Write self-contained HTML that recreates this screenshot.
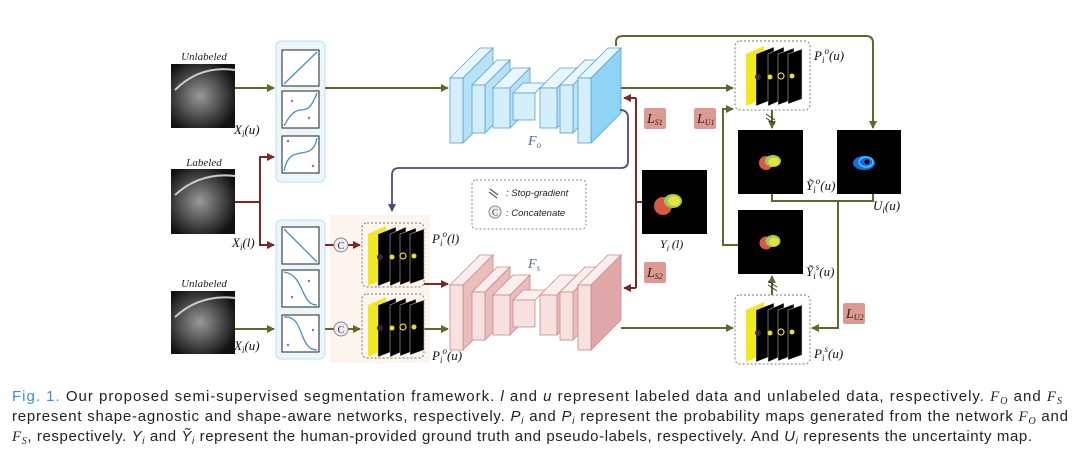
<!DOCTYPE html>
<html><head><meta charset="utf-8"><style>
html,body{margin:0;padding:0;background:#fff;}
svg{display:block;}
.it{font-family:"Liberation Serif",serif;font-style:italic;}
.cap{font-family:"Liberation Sans",sans-serif;font-size:15px;fill:#222;}
</style></head><body>
<svg width="1080" height="458" viewBox="0 0 1080 458" xmlns="http://www.w3.org/2000/svg">
<defs>
<marker id="ag" markerWidth="8" markerHeight="8" refX="7" refY="4" orient="auto" markerUnits="userSpaceOnUse"><path d="M0,0 L8,4 L0,8 Z" fill="#5b6b2a"/></marker>
<marker id="ar" markerWidth="8" markerHeight="8" refX="7" refY="4" orient="auto" markerUnits="userSpaceOnUse"><path d="M0,0 L8,4 L0,8 Z" fill="#7a2a22"/></marker>
<marker id="ap" markerWidth="8" markerHeight="8" refX="7" refY="4" orient="auto" markerUnits="userSpaceOnUse"><path d="M0,0 L8,4 L0,8 Z" fill="#4a4a7a"/></marker>
<radialGradient id="mri" cx="45%" cy="50%" r="60%"><stop offset="0" stop-color="#999"/><stop offset="0.5" stop-color="#555"/><stop offset="1" stop-color="#111"/></radialGradient>
<g id="prob">
 <polygon points="6,10 24,2 24,54 6,62" fill="#f2e81e"/>
 <polygon points="16,10 34,3 34,55 16,62" fill="#000" stroke="#ddd" stroke-width="0.5"/>
 <polygon points="28,10 44,3 44,55 28,62" fill="#000" stroke="#ddd" stroke-width="0.5"/>
 <polygon points="38,10 54,4 54,55 38,61" fill="#000" stroke="#ddd" stroke-width="0.5"/>
 <polygon points="48,10 62,5 62,55 48,60" fill="#000" stroke="#ddd" stroke-width="0.5"/>
 <circle cx="18" cy="33" r="3" fill="#402050"/><circle cx="30" cy="33" r="2.5" fill="#e8e030"/>
 <circle cx="41" cy="32" r="3" fill="none" stroke="#e8e030" stroke-width="1.2"/><circle cx="52" cy="32" r="2.5" fill="#e8e030"/>
</g>
</defs>

<g>
<rect x="171" y="64" width="64" height="64" fill="url(#mri)"/>
<rect x="171" y="169" width="64" height="65" fill="url(#mri)"/>
<rect x="171" y="291" width="64" height="63" fill="url(#mri)"/>
<path d="M175,90 Q200,65 235,70" stroke="#ccc" stroke-width="2" fill="none"/>
<path d="M175,195 Q200,172 235,176" stroke="#ccc" stroke-width="2" fill="none"/>
<path d="M175,317 Q200,294 235,298" stroke="#ccc" stroke-width="2" fill="none"/>
</g>
<g class="it" font-size="11" fill="#222" text-anchor="middle">
<text x="204" y="60">Unlabeled</text><text x="204" y="166">Labeled</text><text x="204" y="287">Unlabeled</text>
</g>
<g class="it" font-size="13" fill="#111">
<text x="234" y="134">X<tspan font-size="9" dy="3">i</tspan><tspan dy="-3">(u)</tspan></text>
<text x="232" y="247">X<tspan font-size="9" dy="3">i</tspan><tspan dy="-3">(l)</tspan></text>
<text x="234" y="350">X<tspan font-size="9" dy="3">i</tspan><tspan dy="-3">(u)</tspan></text>
</g>

<rect x="276" y="41" width="49" height="141" rx="5" fill="#eaf6fa" stroke="#bfe0ec"/>
<rect x="276" y="220" width="49" height="139" rx="5" fill="#eaf6fa" stroke="#bfe0ec"/>
<rect x="330" y="215" width="100" height="148" fill="#fdf3e8" opacity="0.8"/>
<g fill="#fff" stroke="#222" stroke-width="1">
<rect x="282" y="50" width="37" height="36"/><rect x="282" y="91" width="37" height="37"/><rect x="282" y="136" width="37" height="37"/>
<rect x="282" y="227" width="37" height="37"/><rect x="282" y="270" width="37" height="37"/><rect x="282" y="315" width="37" height="37"/>
</g>
<g fill="none" stroke="#4a8cc8" stroke-width="1.3">
<path d="M284,84 L317,52"/>
<path d="M284,126 C300,95 305,125 317,93"/>
<path d="M284,171 C290,140 312,165 317,138"/>
<path d="M284,229 L317,262"/>
<path d="M284,272 C305,275 300,305 317,305"/>
<path d="M284,317 C305,315 298,350 317,350"/>
</g>
<g fill="#7a6ae0"><circle cx="292" cy="101" r="1.2"/><circle cx="309" cy="118" r="1.2"/><circle cx="288" cy="141" r="1.2"/><circle cx="313" cy="166" r="1.2"/><circle cx="309" cy="281" r="1.2"/><circle cx="292" cy="297" r="1.2"/><circle cx="313" cy="330" r="1.2"/><circle cx="288" cy="345" r="1.2"/></g>

<g fill="none" stroke-width="2">
<path d="M235,88 L274,88" stroke="#5b6b2a" marker-end="url(#ag)"/>
<path d="M325,88 L448,88" stroke="#5b6b2a" marker-end="url(#ag)"/>
<path d="M235,202 L260,202 L260,157 L274,157" stroke="#7a2a22" marker-end="url(#ar)"/>
<path d="M260,202 L260,245 L274,245" stroke="#7a2a22" marker-end="url(#ar)"/>
<path d="M235,329 L274,329" stroke="#5b6b2a" marker-end="url(#ag)"/>
<path d="M325,245 L334,245" stroke="#7a2a22"/>
<path d="M348,245 L360,245" stroke="#7a2a22" marker-end="url(#ar)"/>
<path d="M325,329 L334,329" stroke="#5b6b2a"/>
<path d="M348,329 L360,329" stroke="#5b6b2a" marker-end="url(#ag)"/>
<path d="M424,284 L448,284" stroke="#7a2a22" marker-end="url(#ar)"/>
<path d="M424,329 L448,329" stroke="#5b6b2a" marker-end="url(#ag)"/>
</g>
<g font-family="Liberation Serif,serif" font-size="10" fill="#333" text-anchor="middle">
<circle cx="341" cy="245" r="7" fill="#eceaf4" stroke="#888"/><text x="341" y="249">C</text>
<circle cx="341" cy="329" r="7" fill="#eceaf4" stroke="#888"/><text x="341" y="333">C</text>
</g>

<rect x="362" y="223" width="62" height="64" rx="5" fill="none" stroke="#777" stroke-dasharray="2,2"/>
<rect x="362" y="294" width="62" height="64" rx="5" fill="none" stroke="#777" stroke-dasharray="2,2"/>
<use href="#prob" x="362" y="224"/>
<use href="#prob" x="362" y="295"/>
<g class="it" font-size="13" fill="#111">
<text x="432" y="243">P<tspan font-size="9" dy="3">i</tspan><tspan font-size="9" dy="-9">o</tspan><tspan dy="6">(l)</tspan></text>
<text x="432" y="360">P<tspan font-size="9" dy="3">i</tspan><tspan font-size="9" dy="-9">o</tspan><tspan dy="6">(u)</tspan></text>
</g>

<g stroke="#5aa0cc" stroke-width="0.8">
<polygon points="450,78 480,48 493,48 463,78" fill="#e8f6fd"/><polygon points="463,78 493,48 493,113 463,143" fill="#b5e2f7"/><rect x="450" y="78" width="13" height="65" fill="#d4eefa"/>
<polygon points="472,85 497,60 510,60 485,85" fill="#e8f6fd"/><polygon points="485,85 510,60 510,108 485,133" fill="#b5e2f7"/><rect x="472" y="85" width="13" height="48" fill="#d4eefa"/>
<polygon points="493,88 513,68 530,68 510,88" fill="#e8f6fd"/><polygon points="510,88 530,68 530,108 510,128" fill="#b5e2f7"/><rect x="493" y="88" width="17" height="40" fill="#d4eefa"/>
<polygon points="513,93 523,83 545,83 535,93" fill="#e8f6fd"/><rect x="513" y="93" width="22" height="27" fill="#d4eefa"/>
<polygon points="540,88 560,68 577,68 557,88" fill="#e8f6fd"/><polygon points="557,88 577,68 577,108 557,128" fill="#b5e2f7"/><rect x="540" y="88" width="17" height="40" fill="#d4eefa"/>
<polygon points="560,85 585,60 598,60 573,85" fill="#e8f6fd"/><polygon points="573,85 598,60 598,108 573,133" fill="#b5e2f7"/><rect x="560" y="85" width="13" height="48" fill="#d4eefa"/>
<polygon points="578,78 608,48 621,48 591,78" fill="#e8f6fd"/><polygon points="591,78 621,48 621,113 591,143" fill="#8fd3f5"/><rect x="578" y="78" width="13" height="65" fill="#d4eefa"/>
</g>
<g stroke="#c88a8a" stroke-width="0.8" transform="translate(0,207)">
<polygon points="450,78 480,48 493,48 463,78" fill="#fbeeee"/><polygon points="463,78 493,48 493,113 463,143" fill="#ebbcbc"/><rect x="450" y="78" width="13" height="65" fill="#f7e0e0"/>
<polygon points="472,85 497,60 510,60 485,85" fill="#fbeeee"/><polygon points="485,85 510,60 510,108 485,133" fill="#ebbcbc"/><rect x="472" y="85" width="13" height="48" fill="#f7e0e0"/>
<polygon points="493,88 513,68 530,68 510,88" fill="#fbeeee"/><polygon points="510,88 530,68 530,108 510,128" fill="#ebbcbc"/><rect x="493" y="88" width="17" height="40" fill="#f7e0e0"/>
<polygon points="513,93 523,83 545,83 535,93" fill="#fbeeee"/><rect x="513" y="93" width="22" height="27" fill="#f7e0e0"/>
<polygon points="540,88 560,68 577,68 557,88" fill="#fbeeee"/><polygon points="557,88 577,68 577,108 557,128" fill="#ebbcbc"/><rect x="540" y="88" width="17" height="40" fill="#f7e0e0"/>
<polygon points="560,85 585,60 598,60 573,85" fill="#fbeeee"/><polygon points="573,85 598,60 598,108 573,133" fill="#ebbcbc"/><rect x="560" y="85" width="13" height="48" fill="#f7e0e0"/>
<polygon points="578,78 608,48 621,48 591,78" fill="#fbeeee"/><polygon points="591,78 621,48 621,113 591,143" fill="#e0a8a8"/><rect x="578" y="78" width="13" height="65" fill="#f7e0e0"/>
</g>
<g class="it" font-size="14" fill="#4a6aa8">
<text x="528" y="145">F<tspan font-size="9" dy="3">o</tspan></text>
<text x="528" y="268">F<tspan font-size="9" dy="3">s</tspan></text>
</g>

<rect x="472" y="180" width="114" height="49" rx="4" fill="none" stroke="#888" stroke-dasharray="2,2"/>
<path d="M490,189 L498,195 M489,192 L497,198" stroke="#333" stroke-width="1"/>
<circle cx="495" cy="212" r="6" fill="#eceaf4" stroke="#888"/>
<text x="495" y="215.5" font-family="Liberation Serif,serif" font-size="9" text-anchor="middle" fill="#333">C</text>
<g font-family="Liberation Sans,sans-serif" font-style="italic" font-size="9.5" fill="#222">
<text x="506" y="196">: Stop-gradient</text><text x="506" y="216">: Concatenate</text>
</g>

<path d="M620,110 Q628,110 628,118 L628,161 Q628,168 621,168 L399,168 Q392,168 392,175 L392,211" fill="none" stroke="#4a4a7a" stroke-width="1.8" marker-end="url(#ap)"/>

<g fill="none" stroke="#7a2a22" stroke-width="2">
<path d="M636,98 L636,288"/>
<path d="M636,98 L624,98" marker-end="url(#ar)"/>
<path d="M636,288 L624,288" marker-end="url(#ar)"/>
<path d="M636,202 L642,202"/>
</g>
<rect x="642" y="170" width="65" height="64" fill="#000"/>
<circle cx="663" cy="206" r="9" fill="#d85a45"/><ellipse cx="673" cy="201" rx="9" ry="7" fill="#9ccc55"/><ellipse cx="674" cy="201" rx="6" ry="5" fill="#e8e040"/>
<text x="660" y="248" class="it" font-size="12" fill="#111">Y<tspan font-size="8" dy="3">i</tspan><tspan dy="-3"> (l)</tspan></text>

<g class="it" font-size="14" fill="#222">
<rect x="644" y="108" width="22" height="21" rx="2" fill="#dc9a92"/><text x="647" y="123">L<tspan font-size="8" dy="2">S1</tspan></text>
<rect x="644" y="262" width="22" height="21" rx="2" fill="#dc9a92"/><text x="647" y="277">L<tspan font-size="8" dy="2">S2</tspan></text>
<rect x="694" y="108" width="22" height="21" rx="2" fill="#dc9a92"/><text x="697" y="123">L<tspan font-size="8" dy="2">U1</tspan></text>
<rect x="843" y="303" width="22" height="21" rx="2" fill="#dc9a92"/><text x="846" y="318">L<tspan font-size="8" dy="2">U2</tspan></text>
</g>

<g fill="none" stroke="#5b6b2a" stroke-width="2">
<path d="M616,46 L616,42 Q616,36 623,36 L866,36 Q873,36 873,43 L873,128" marker-end="url(#ag)"/>
<path d="M621,88 L733,88" marker-end="url(#ag)"/>
<path d="M738,245 L723,245 L723,109 L733,109" marker-end="url(#ag)"/>
<path d="M621,328 L733,328" marker-end="url(#ag)"/>
<path d="M772,194 L772,201 L873,201 L873,194"/>
<path d="M838,201 L838,328 L812,328" marker-end="url(#ag)"/>
<path d="M772,110 L772,128" marker-end="url(#ag)"/>
<path d="M772,295 L772,276" marker-end="url(#ag)"/>
</g>
<path d="M766,114 L775,120 M766,118 L775,124" stroke="#333" stroke-width="1"/>
<path d="M768,281 L777,287 M768,285 L777,291" stroke="#333" stroke-width="1"/>

<rect x="735" y="41" width="75" height="69" rx="5" fill="#fff" stroke="#777" stroke-dasharray="2,2"/>
<rect x="735" y="295" width="75" height="69" rx="5" fill="#fff" stroke="#777" stroke-dasharray="2,2"/>
<use href="#prob" x="740" y="44"/>
<use href="#prob" x="740" y="300"/>
<g class="it" font-size="13" fill="#111">
<text x="814" y="60">P<tspan font-size="9" dy="3">i</tspan><tspan font-size="9" dy="-9">o</tspan><tspan dy="6">(u)</tspan></text>
<text x="814" y="358">P<tspan font-size="9" dy="3">i</tspan><tspan font-size="9" dy="-9">s</tspan><tspan dy="6">(u)</tspan></text>
</g>

<rect x="738" y="130" width="65" height="64" fill="#000"/>
<circle cx="766" cy="163" r="7" fill="#d85a45"/><ellipse cx="773" cy="161" rx="8" ry="6" fill="#9ccc55"/><ellipse cx="774" cy="162" rx="5.5" ry="4.5" fill="#e8e040"/>
<rect x="738" y="210" width="65" height="64" fill="#000"/>
<circle cx="766" cy="243" r="6.5" fill="#d85a45"/><ellipse cx="773" cy="241" rx="7.5" ry="6" fill="#9ccc55"/><ellipse cx="774" cy="242" rx="5" ry="4.5" fill="#e8e040"/>
<rect x="837" y="130" width="64" height="64" fill="#000"/>
<ellipse cx="864" cy="163" rx="11" ry="7" fill="#1a6ae0"/><ellipse cx="866" cy="162" rx="7" ry="5" fill="none" stroke="#40c8f0" stroke-width="1.5"/><circle cx="867" cy="162" r="2.5" fill="#000"/>
<g class="it" font-size="13" fill="#111">
<text x="806" y="190">Ỹ<tspan font-size="9" dy="3">i</tspan><tspan font-size="9" dy="-9">o</tspan><tspan dy="6">(u)</tspan></text>
<text x="806" y="276">Ỹ<tspan font-size="9" dy="3">i</tspan><tspan font-size="9" dy="-9">s</tspan><tspan dy="6">(u)</tspan></text>
<text x="873" y="210">U<tspan font-size="9" dy="3">i</tspan><tspan dy="-3">(u)</tspan></text>
</g>

<text class="cap" x="12" y="401" textLength="1050" lengthAdjust="spacing"><tspan fill="#3a8fd0">Fig. 1.</tspan>    Our proposed semi-supervised segmentation framework. <tspan font-style="italic">l</tspan> and <tspan font-style="italic">u</tspan> represent labeled data and unlabeled data, respectively. <tspan font-family="Liberation Serif,serif" font-style="italic">F<tspan font-size="10" dy="3">O</tspan></tspan><tspan dy="-3"> and </tspan><tspan font-family="Liberation Serif,serif" font-style="italic">F<tspan font-size="10" dy="3">S</tspan></tspan></text>
<text class="cap" x="12" y="421" textLength="1056" lengthAdjust="spacing">represent shape-agnostic and shape-aware networks, respectively. <tspan font-style="italic">P<tspan font-size="10" dy="3">i</tspan></tspan><tspan dy="-3"> and </tspan><tspan font-style="italic">P<tspan font-size="10" dy="3">i</tspan></tspan><tspan dy="-3"> represent the probability maps generated from the network </tspan><tspan font-family="Liberation Serif,serif" font-style="italic">F<tspan font-size="10" dy="3">O</tspan></tspan><tspan dy="-3"> and</tspan></text>
<text class="cap" x="12" y="441" textLength="1020" lengthAdjust="spacing"><tspan font-family="Liberation Serif,serif" font-style="italic">F<tspan font-size="10" dy="3">S</tspan></tspan><tspan dy="-3">, respectively. </tspan><tspan font-style="italic">Y<tspan font-size="10" dy="3">i</tspan></tspan><tspan dy="-3"> and </tspan><tspan font-style="italic">Ỹ<tspan font-size="10" dy="3">i</tspan></tspan><tspan dy="-3"> represent the human-provided ground truth and pseudo-labels, respectively. And </tspan><tspan font-style="italic">U<tspan font-size="10" dy="3">i</tspan></tspan><tspan dy="-3"> represents the uncertainty map.</tspan></text>
</svg>
</body></html>
